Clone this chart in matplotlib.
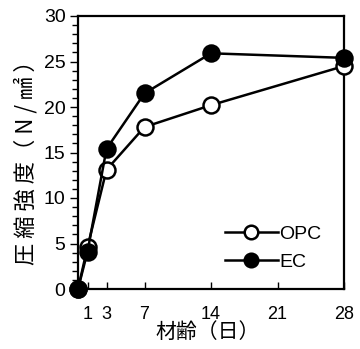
import matplotlib
matplotlib.use("Agg")
import matplotlib.pyplot as plt
from matplotlib.ticker import MultipleLocator

days = [0, 1, 3, 7, 14, 28]
opc = [0.0, 4.6, 13.1, 17.8, 20.2, 24.5]
ec = [0.0, 4.1, 15.4, 21.5, 25.9, 25.4]
xticks = [1, 3, 7, 14, 21, 28]
yticks = [0, 5, 10, 15, 20, 25, 30]

num_font = ['Liberation Sans', 'DejaVu Sans']
jp_font = ['Noto Sans CJK JP', 'DejaVu Sans']

fig = plt.figure(figsize=(3.6, 3.49), dpi=100)
ax = fig.add_axes([78/360, 1-289/349, (344-78)/360, (289-16)/349])

ax.plot(days, opc, '-o', color='black', mfc='white', mec='black', mew=1.8,
        ms=11.5, lw=1.8, label='OPC', clip_on=False, zorder=3)
ax.plot(days, ec, '-o', color='black', mfc='black', mec='black', mew=1.8,
        ms=11.5, lw=1.8, label='EC', clip_on=False, zorder=4)

ax.set_xlim(0, 28)
ax.set_ylim(0, 30)
ax.set_xticks(xticks)
ax.set_yticks(yticks)
ax.yaxis.set_minor_locator(MultipleLocator(1))
ax.tick_params(axis='x', direction='in', length=5, width=1, pad=12)
ax.tick_params(axis='y', which='major', direction='out', length=6, width=1, pad=3)
ax.tick_params(axis='y', which='minor', direction='out', length=4, width=1)
for lab in ax.get_xticklabels():
    lab.set_fontfamily(num_font)
    lab.set_fontsize(13)
for lab in ax.get_yticklabels():
    lab.set_fontfamily(num_font)
    lab.set_fontsize(14)
for s in ax.spines.values():
    s.set_linewidth(1.6)

ax.set_xlabel('材齢（日）', fontfamily=jp_font, fontsize=15)
ax.set_ylabel('圧 縮 強 度（ N / ㎟ ）', fontfamily=jp_font, fontsize=16)
ax.xaxis.set_label_coords((208-78)/266, (289-332)/273)
ax.xaxis.label.set_va('center')
ax.yaxis.set_label_coords((26-78)/266, (289-157)/273)
ax.yaxis.label.set_va('center')

leg = ax.legend(loc='upper left', frameon=False, prop={'family': num_font, 'size': 14},
                handlelength=2.7, handletextpad=0.1, labelspacing=0.55,
                markerscale=0.85, borderpad=0, borderaxespad=0,
                bbox_to_anchor=((225-78)/266, (289-225)/273))

fig.savefig('out.png', dpi=100)
